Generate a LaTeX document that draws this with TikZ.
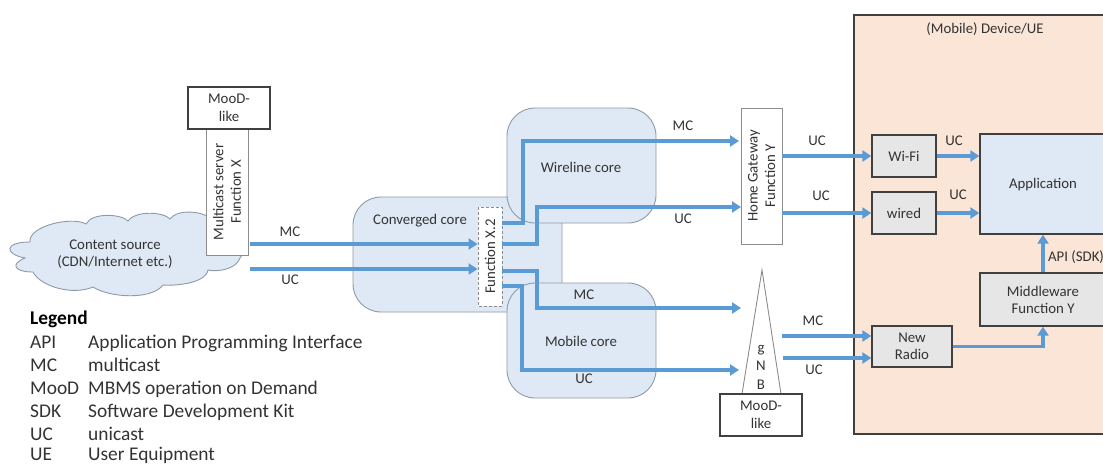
\documentclass[tikz,border=0pt]{standalone}
\usepackage{fontspec}
\setmainfont{Carlito}
\usetikzlibrary{arrows.meta,calc}
\definecolor{flowc}{HTML}{5B9BD5}
\definecolor{corefill}{HTML}{DEE9F5}
\definecolor{coreline}{HTML}{8E9AA6}
\definecolor{devfill}{HTML}{FBE5D6}
\definecolor{greyfill}{HTML}{E7E6E6}
\definecolor{inkc}{HTML}{333333}
\definecolor{boxline}{HTML}{404040}
\tikzset{
  x=1pt,y=-1pt,
  every node/.style={font=\fontsize{14.8}{17.5}\selectfont,text=inkc,inner sep=0pt,align=center},
  whitebox/.style={draw=boxline,line width=1.3pt,fill=white},
  greybox/.style={draw=boxline,line width=1.3pt,fill=greyfill},
  bluebox/.style={draw=boxline,line width=1.3pt,fill=corefill},
  thinbox/.style={draw=black!45,line width=0.9pt,fill=white,rotate=90},
  core/.style={draw=coreline,line width=0.9pt,fill=corefill,rounded corners=28pt},
  flow/.style={draw=flowc,line width=3.2pt,-{Triangle[length=9pt,width=11pt]}},
  legendhead/.style={font=\fontsize{19.4}{22}\selectfont\bfseries,anchor=base west,text=black},
  legendtext/.style={font=\fontsize{19.4}{22}\selectfont,anchor=base west,text=inkc},
}
\begin{document}
\begin{tikzpicture}
\useasboundingbox (0,0) rectangle (1103,466);
% device panel
\fill[devfill,draw=boxline,line width=1.3pt] (1110,15) -- (854,15) -- (854,434) -- (1110,434);
\node (devlabel) at (985,29) {(Mobile) Device/UE};
% cloud
\path[draw=coreline,line width=0.9pt,fill=corefill]
 (30,242) .. controls (28,226) and (72,216) .. (86,224)
 .. controls (92,212) and (122,214) .. (128,221)
 .. controls (136,210) and (164,212) .. (170,219)
 .. controls (178,208) and (204,212) .. (210,218)
 .. controls (232,222) and (252,244) .. (240,258)
 .. controls (236,270) and (216,272) .. (208,270)
 .. controls (206,284) and (172,286) .. (163,285)
 .. controls (152,300) and (110,298) .. (93,287)
 .. controls (72,296) and (40,286) .. (33,272)
 .. controls (14,272) and (10,264) .. (25,258)
 .. controls (4,254) and (4,242) .. (30,242) -- cycle;
\node (cloud) at (115,254) {Content source\\(CDN/Internet etc.)};
% multicast server
\node[thinbox,minimum width=126pt,minimum height=42pt] (server) at (227,192) {Multicast server\\Function X};
\node[whitebox,minimum width=82pt,minimum height=42pt] (moodtop) at (229,108) {MooD-\\like};
% cores
\draw[core] (353,197) rectangle (562,312);
\node[anchor=center] (convlabel) at (420,221) {Converged core};
\draw[core] (507,108) rectangle (656,223);
\node (wirelabel) at (581,167) {Wireline core};
\draw[core] (507,283) rectangle (656,398);
\node (moblabel) at (581,341) {Mobile core};
\node[draw=black!45,densely dashed,line width=0.9pt,fill=white,rotate=90,minimum width=99pt,minimum height=24pt] (fx) at (490,256.5) {Function X.2};
% gateway
\node[thinbox,minimum width=136pt,minimum height=41pt] (gw) at (761.5,176) {Home Gateway\\Function Y};
% gNB
\coordinate (apex) at (762,270);
\coordinate (gl) at (742,394);
\coordinate (gr) at (781,394);
\draw[draw=black!45,line width=0.9pt,fill=white] (apex) -- (gl) -- (gr) -- cycle;
\node (gnb) at (761,367) {g\\[1pt]N\\[1pt]B};
\node[whitebox,minimum width=82pt,minimum height=42pt] (moodbot) at (761,415) {MooD-\\like};
% device boxes
\node[greybox,minimum width=64pt,minimum height=42pt] (wifi) at (904,156) {Wi-Fi};
\node[greybox,minimum width=64pt,minimum height=42pt] (wired) at (904,213) {wired};
\node[bluebox,minimum width=140pt,minimum height=100pt] (app) at (1050,184) {};
\node (applabel) at (1043,185) {Application};
\node[greybox,minimum width=140pt,minimum height=53pt] (mw) at (1050,299.5) {};
\node (mwlabel) at (1043,300) {Middleware\\Function Y};
\node[greybox,minimum width=80pt,minimum height=41pt] (nr) at (912,346.5) {New\\Radio};
% named connector ends
\coordinate (srcmc) at (250,244);
\coordinate (srcuc) at (250,269);
\coordinate (fxa) at (502,223);
\coordinate (fxb) at (502,244);
\coordinate (fxc) at (502,271);
\coordinate (fxd) at (502,286);
\coordinate (gwa) at (739,141);
\coordinate (gwb) at (741,207);
\coordinate (gnba) at (741,308);
\coordinate (gnbb) at (739,370);
\coordinate (gnbc) at (782,336);
\coordinate (gnbd) at (783,358);
% flows
\draw[flow] (srcmc) -- (fx.north |- srcmc);
\draw[flow] (srcuc) -- (fx.north |- srcuc);
\draw[flow] (fxa) -- (523,223) -- (523,141) -- (gwa);
\draw[flow] (fxb) -- (537,244) -- (537,207) -- (gwb);
\draw[flow] (fxc) -- (537,271) -- (537,308) -- (gnba);
\draw[flow] (fxd) -- (522,286) -- (522,370) -- (gnbb);
\draw[flow] (gw.south |- wifi.west) -- (wifi.west);
\draw[flow] (gw.south |- wired.west) -- (wired.west);
\draw[flow] (wifi.east) -- (app.west |- wifi.east);
\draw[flow] (wired.east) -- (app.west |- wired.east);
\draw[flow] (gnbc) -- (nr.west |- gnbc);
\draw[flow] (gnbd) -- (nr.west |- gnbd);
\draw[flow] (nr.east) -- (mwlabel.center |- nr.east) -- (mwlabel.center |- mw.south);
\draw[flow] (mwlabel.center |- mw.north) -- (mwlabel.center |- app.south);
% flow labels
\node (l1) at (290,232) {MC};
\node (l2) at (290,280) {UC};
\node (l3) at (683,126) {MC};
\node (l4) at (683,219) {UC};
\node (l5) at (584,295) {MC};
\node (l6) at (584,379) {UC};
\node (l7) at (817,141) {UC};
\node (l8) at (821,196) {UC};
\node (l9) at (954,141) {UC};
\node (l10) at (958,195) {UC};
\node (l11) at (813,321) {MC};
\node (l12) at (814,370) {UC};
\node (l13) at (1076,257) {API (SDK)};
% legend
\node[legendhead] (leg) at (30,324) {Legend};
\foreach \n/\a/\b/\y in {a/API/Application Programming Interface/348,b/MC/multicast/371,c/MooD/MBMS operation on Demand/394,d/SDK/Software Development Kit/417,e/UC/unicast/440,f/UE/User Equipment/460.5}{
  \node[legendtext] (k\n) at (30,\y) {\a};
  \node[legendtext] (v\n) at (88,\y) {\b};
}
\end{tikzpicture}
\end{document}
